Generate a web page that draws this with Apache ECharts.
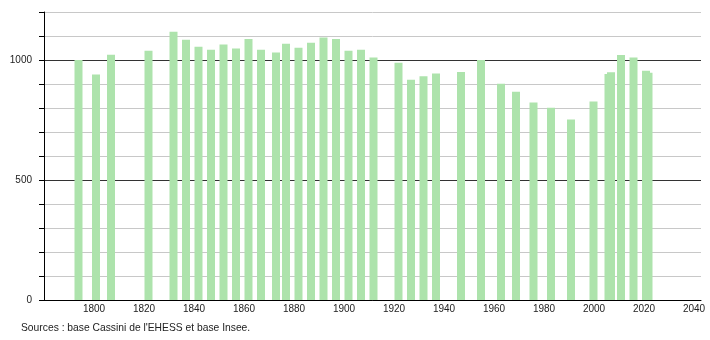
<!DOCTYPE html>
<html><head><meta charset="utf-8">
<script src="https://cdn.jsdelivr.net/npm/echarts@6/dist/echarts.min.js"></script>
<style>html,body{margin:0;padding:0;background:#fff}#c{width:710px;height:340px}</style>
</head><body><div id="c"></div>
<script>
const years = [1793,1800,1806,1821,1831,1836,1841,1846,1851,1856,1861,1866,1872,1876,1881,1886,1891,1896,1901,1906,1911,1921,1926,1931,1936,1946,1954,1962,1968,1975,1982,1990,1999,2005,2006,2010,2015,2020,2021];
const population = [1000,940,1022,1039,1118,1084,1055,1043,1065,1048,1088,1043,1031,1068,1051,1072,1094,1088,1039,1043,1010,989,918,932,944,950,1000,901,868,823,801,752,827,942,949,1021,1010,955,947];
const xTickLabels = [1800,1820,1840,1860,1880,1900,1920,1940,1960,1980,2000,2020,2040];
const yTickLabels = [0,500,1000];
const sourceText = "Sources : base Cassini de l'EHESS et base Insee.";

const FONT = '"Liberation Sans", Arial, sans-serif';
const chart = echarts.init(document.getElementById('c'), null, {renderer:'canvas'});
chart.setOption({
  animation: false,
  backgroundColor: '#fff',
  title: {
    text: sourceText, left: 21, top: 323, padding: 0,
    textStyle: {fontSize: 10.3, fontWeight: 'normal', color: '#222', fontFamily: FONT}
  },
  grid: {left: 44, right: 9, top: 12, bottom: 40, containLabel: false},
  xAxis: [{
    type: 'value', min: 1780, max: 2042.8, interval: 20,
    axisLine: {show: true, lineStyle: {color: '#000', width: 1}},
    axisTick: {show: false},
    splitLine: {show: false},
    axisLabel: {
      formatter: v => xTickLabels.includes(v) ? String(v) : '',
      margin: 4, fontSize: 10, color: '#222', fontFamily: FONT,
      showMinLabel: true, showMaxLabel: true
    }
  }, {
    type: 'value', min: 1779.2, max: 2042, show: false,
    splitLine: {show: false}
  }],
  yAxis: {
    type: 'value', min: 0, max: 1200, interval: 100,
    axisLine: {show: true, lineStyle: {color: '#000', width: 1}},
    axisTick: {show: true, length: 5, lineStyle: {color: '#000'}},
    axisLabel: {
      formatter: v => yTickLabels.includes(v) ? String(v) : '',
      margin: 12, fontSize: 10, color: '#222', fontFamily: FONT
    },
    splitLine: {show: true, lineStyle: {color: ['#333','#c8c8c8','#c8c8c8','#c8c8c8','#c8c8c8'], width: 1}}
  },
  series: [{
    type: 'bar',
    xAxisIndex: 1,
    barWidth: 8,
    itemStyle: {color: '#ade3ac'},
    data: years.map((y, i) => [y, population[i]])
  }]
});
</script>
</body></html>
